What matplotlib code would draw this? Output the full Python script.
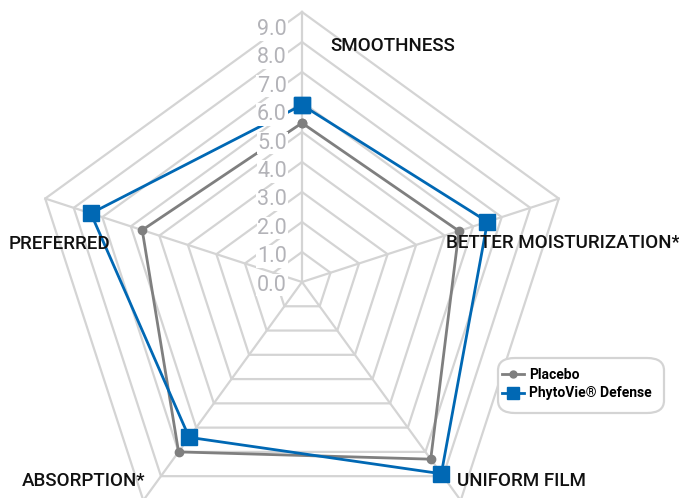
import numpy as np
import matplotlib
matplotlib.use("Agg")
from matplotlib import pyplot as plt
from matplotlib.lines import Line2D
from matplotlib.patches import FancyBboxPatch
import matplotlib.transforms as mtransforms

# data
categories = ["SMOOTHNESS", "BETTER MOISTURIZATION*", "UNIFORM FILM",
              "ABSORPTION*", "PREFERRED"]
placebo = [5.3, 5.5, 7.3, 7.0, 5.6]
phytovie = [5.9, 6.5, 7.9, 6.4, 7.4]
ring_levels = [1, 2, 3, 4, 5, 6, 7, 8, 9]
tick_values = [0, 1, 2, 3, 4, 5, 6, 7, 8, 9]

W, H = 679, 498
fig = plt.figure(figsize=(W / 100, H / 100), dpi=100)

# polar axes: center (302, 282) px, radius 270 px for value 9
cx, cy, R = 302, 282, 270
ax = fig.add_axes([(cx - R) / W, (H - cy - R) / H, 2 * R / W, 2 * R / H],
                  projection="polar")
ax.set_theta_offset(np.pi / 2)
ax.set_theta_direction(-1)
ax.set_ylim(0, 9)
ax.grid(False)
ax.set_xticks([])
ax.set_yticks([])
ax.spines["polar"].set_visible(False)
ax.patch.set_alpha(0)

n = len(categories)
angles = np.arange(n) * 2 * np.pi / n
closed = np.append(angles, angles[0])

grid_col = "#d4d4d4"
for lev in ring_levels:
    ax.plot(closed, [lev] * (n + 1), color=grid_col, lw=1.6, zorder=1,
            clip_on=False)
for a in angles:
    ax.plot([a, a], [0, 9], color=grid_col, lw=1.6, zorder=1, clip_on=False)

gray = "#7f7f7f"
blue = "#0068b4"
ax.plot(closed, placebo + placebo[:1], color=gray, lw=2.0, marker="o",
        markersize=6, zorder=3, clip_on=False)
ax.plot(closed, phytovie + phytovie[:1], color=blue, lw=2.0, marker="s",
        markersize=11, zorder=4, clip_on=False)

# value labels along the top axis (slightly compressed spacing as in the source)
for v in tick_values:
    shift = 1.6 * v + 3  # labels sit a little below their ring vertex
    off = mtransforms.offset_copy(ax.transData, fig=fig, x=-15, y=-shift,
                                  units="dots")
    ax.text(0, v, "%.1f" % v, transform=off, ha="right",
            va="center", fontsize=15.5, color="#b3b3b8", family="Roboto",
            zorder=5, clip_on=False,
            bbox=dict(facecolor="white", edgecolor="none", pad=0.5))

# category labels
lab_pos = [(330, 46), (446, 243), (457, 481), (22, 481), (9, 244)]
for name, (x, y) in zip(categories, lab_pos):
    fig.text(x / W, 1 - y / H, name, ha="left", va="center", fontsize=13.5,
             family="Roboto", weight="medium", color="#111111")

# legend
box = FancyBboxPatch((498 / W, 1 - 413 / H), 166 / W, 55 / H,
                     boxstyle="round,pad=0,rounding_size=0.025",
                     transform=fig.transFigure, facecolor="white",
                     edgecolor="#d4d4d4", lw=1.6, zorder=10)
fig.patches.append(box)
handles = [Line2D([], [], color=gray, lw=2.0, marker="o", markersize=5),
           Line2D([], [], color=blue, lw=2.0, marker="s", markersize=8)]
leg = fig.legend(handles, ["Placebo", "PhytoVie\u00ae Defense"],
                 loc="center left", bbox_to_anchor=(489 / W, 1 - 384 / H),
                 frameon=False, handlelength=1.6,
                 handletextpad=0.4, labelspacing=0.35,
                 prop=dict(family="Roboto", size=10, weight="bold"))
leg.set_zorder(11)

fig.savefig("out.png", dpi=100)
